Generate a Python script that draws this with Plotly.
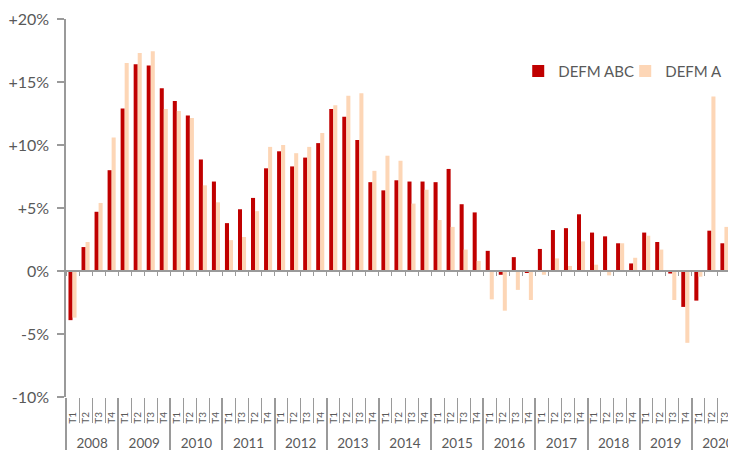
import plotly.graph_objects as go

years = ["2008", "2009", "2010", "2011", "2012", "2013", "2014",
         "2015", "2016", "2017", "2018", "2019", "2020"]
quarter_labels = ["T1", "T2", "T3", "T4"]
quarter_labels_2011 = ["T1", "T3", "T2", "T4"]

defm_abc = [-3.9, 1.9, 4.7, 8.0,
            12.9, 16.4, 16.3, 14.5,
            13.5, 12.35, 8.85, 7.1,
            3.8, 4.9, 5.8, 8.15,
            9.5, 8.3, 9.0, 10.15,
            12.85, 12.25, 10.4, 7.05,
            6.4, 7.2, 7.1, 7.1,
            7.05, 8.1, 5.3, 4.65,
            1.6, -0.3, 1.1, -0.15,
            1.75, 3.25, 3.4, 4.5,
            3.05, 2.75, 2.2, 0.6,
            3.05, 2.3, -0.2, -2.85,
            -2.35, 3.2, 2.2, 3.05]
defm_a = [-3.7, 2.3, 5.4, 10.6,
          16.5, 17.3, 17.45, 12.85,
          12.7, 12.15, 6.8, 5.45,
          2.45, 2.7, 4.75, 9.85,
          10.0, 9.35, 9.85, 10.95,
          13.15, 13.9, 14.1, 7.95,
          9.15, 8.75, 5.35, 6.45,
          4.05, 3.5, 1.7, 0.8,
          -2.25, -3.15, -1.5, -2.3,
          -0.3, 1.0, 0.4, 2.35,
          0.5, -0.35, 2.2, 1.05,
          2.8, 1.7, -2.3, -5.7,
          -0.45, 13.85, 3.5, None]

y_tickvals = [-10, -5, 0, 5, 10, 15, 20]
y_ticktext = ["-10%", "-5%", "0%", "+5%", "+10%", "+15%", "+20%"]

# build categories (unique keys, quarter label shown)
x_cat, x_q = [], []
for y in years:
    ql = quarter_labels_2011 if y == "2011" else quarter_labels
    for q in ql:
        x_cat.append(f"{y} {q}")
        x_q.append(q)
n = len(x_cat)
bounds = [i - 0.5 for i in range(n + 1)]
year_centers = [i * 4 + 1.5 for i in range(len(years))]
year_bounds = [i * 4 - 0.5 for i in range(len(years) + 1)]

GREY = "#9a9a9a"
TXT = "#595959"
FONT = "Lato"
xr = [-0.5, n - 0.5]

fig = go.Figure()
fig.add_trace(go.Bar(x=x_cat, y=defm_abc, name="DEFM ABC",
                     marker=dict(color="#C00000", line=dict(width=0))))
fig.add_trace(go.Bar(x=x_cat, y=defm_a, name="DEFM A",
                     marker=dict(color="#FDD6B6", line=dict(width=0))))
# empty helper traces so the overlay axes get drawn
for ax in ["x2", "x3", "x4", "x5"]:
    fig.add_trace(go.Scatter(x=[], y=[], xaxis=ax, yaxis="y", showlegend=False,
                             hoverinfo="skip"))

common = dict(showgrid=False, zeroline=False, automargin=False)

# the page body adds an 8px margin; the chart runs slightly past the window's right edge
fig.update_layout(
    width=736, height=442,
    margin=dict(l=58, r=0, t=11, b=53, pad=0, autoexpand=False),
    paper_bgcolor="white", plot_bgcolor="white",
    barmode="group", bargap=0.38, bargroupgap=0,
    font=dict(family=FONT, color=TXT),
    showlegend=True,
    legend=dict(orientation="h", x=0.667, y=0.862, xanchor="left", yanchor="middle",
                font=dict(size=15, color=TXT, family=FONT), bgcolor="rgba(0,0,0,0)",
                itemwidth=30, entrywidth=62, entrywidthmode="pixels"),
    # main axis: bars + quarter labels
    xaxis=dict(type="category", range=xr, tickmode="array", tickvals=x_cat,
               ticktext=x_q, tickangle=-90, ticks="", showline=False,
               ticklabelstandoff=12,
               tickfont=dict(size=10, color=TXT, family=FONT), **common),
    yaxis=dict(range=[-10, 20], tickvals=y_tickvals, ticktext=y_ticktext,
               ticks="outside", ticklen=7, tickcolor=GREY, tickwidth=1.5,
               ticklabelstandoff=5,
               showline=True, linecolor=GREY, linewidth=1.5,
               tickfont=dict(size=16, color=TXT, family=FONT), **common),
    # quarter separators
    xaxis2=dict(overlaying="x", anchor="y", side="bottom", range=xr,
                tickmode="array", tickvals=bounds, showticklabels=False,
                ticks="outside", ticklen=25, tickcolor=GREY, tickwidth=1.3,
                showline=False, **common),
    # year labels
    xaxis3=dict(overlaying="x", anchor="y", side="bottom", range=xr,
                tickmode="array", tickvals=year_centers, ticktext=years,
                ticks="", showline=False, ticklabeloverflow="allow",
                ticklabelstandoff=36, tickfont=dict(size=13.5, color=TXT, family=FONT),
                **common),
    # year separators
    xaxis4=dict(overlaying="x", anchor="y", side="bottom", range=xr,
                tickmode="array", tickvals=year_bounds, showticklabels=False,
                ticks="outside", ticklen=60, tickcolor=GREY, tickwidth=1.5,
                showline=False, **common),
    # zero line with small ticks
    xaxis5=dict(overlaying="x", anchor="free", position=1/3, range=xr,
                tickmode="array", tickvals=bounds, showticklabels=False,
                ticks="outside", ticklen=4, tickcolor=GREY, tickwidth=1.3,
                showline=True, linecolor=GREY, linewidth=2, **common),
)

fig.write_html("out.html")
